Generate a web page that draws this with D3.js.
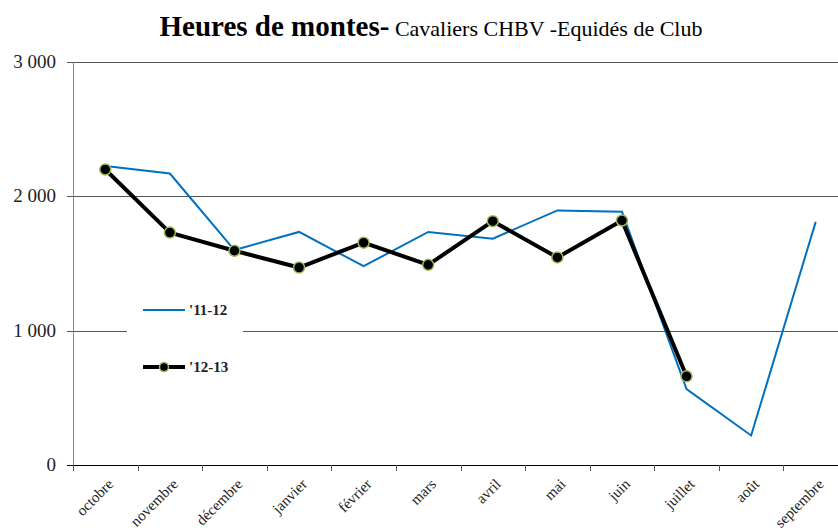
<!DOCTYPE html>
<html>
<head>
<meta charset="utf-8">
<script src="https://cdn.jsdelivr.net/npm/d3@7"></script>
<style>
  body { margin: 0; background: #fff; }
  svg { display: block; font-family: "Liberation Serif", "DejaVu Serif", serif; }
</style>
</head>
<body>
<svg id="chart" width="838" height="532"></svg>
<script>
const months = ["octobre", "novembre", "décembre", "janvier", "février", "mars",
                "avril", "mai", "juin", "juillet", "août", "septembre"];
const series1112 = [2225, 2170, 1600, 1735, 1480, 1735, 1685, 1895, 1885, 565, 220, 1810];
const series1213 = [2200, 1730, 1595, 1470, 1655, 1490, 1815, 1545, 1820, 660];
const yTicks = [0, 1000, 2000, 3000];

const svg = d3.select("#chart");
const plotLeft = 73, plotRight = 848, plotTop = 62, plotBottom = 465;

const x = d3.scaleBand().domain(months).range([plotLeft, plotRight]);
const y = d3.scaleLinear().domain([0, 3000]).range([plotBottom, plotTop]);
const cx = m => x(m) + x.bandwidth() / 2;

// gridlines
svg.append("g").selectAll("line")
  .data(yTicks.filter(d => d > 0))
  .join("line")
  .attr("x1", plotLeft - 6).attr("x2", 838)
  .attr("y1", d => Math.round(y(d)) + 0.5).attr("y2", d => Math.round(y(d)) + 0.5)
  .attr("stroke", "#555").attr("stroke-width", 1);

// y axis
svg.append("line")
  .attr("x1", plotLeft + 0.5).attr("x2", plotLeft + 0.5)
  .attr("y1", plotTop).attr("y2", plotBottom)
  .attr("stroke", "#888").attr("stroke-width", 1);

svg.append("g").selectAll("text")
  .data(yTicks)
  .join("text")
  .attr("x", 56)
  .attr("y", d => y(d) + 6)
  .attr("text-anchor", "end")
  .attr("font-size", "19px")
  .attr("fill", "#222")
  .text(d => d3.format(",")(d).replace(",", " "));

// x axis
svg.append("line")
  .attr("x1", plotLeft - 6).attr("x2", 838)
  .attr("y1", plotBottom + 0.5).attr("y2", plotBottom + 0.5)
  .attr("stroke", "#000").attr("stroke-width", 1.2);

svg.append("g").selectAll("line")
  .data(months)
  .join("line")
  .attr("x1", d => Math.round(x(d)) + 0.5).attr("x2", d => Math.round(x(d)) + 0.5)
  .attr("y1", plotBottom).attr("y2", plotBottom + 6)
  .attr("stroke", "#555");

svg.append("g").selectAll("text")
  .data(months)
  .join("text")
  .attr("transform", d => `translate(${cx(d) + 9},${plotBottom + 20}) rotate(-45)`)
  .attr("text-anchor", "end")
  .attr("font-size", "15px")
  .attr("fill", "#222")
  .text(d => d);

// lines
const line = d3.line().x((d, i) => cx(months[i])).y(d => y(d));

svg.append("path")
  .datum(series1112)
  .attr("d", line)
  .attr("fill", "none")
  .attr("stroke", "#0070c0")
  .attr("stroke-width", 2);

svg.append("path")
  .datum(series1213)
  .attr("d", line)
  .attr("fill", "none")
  .attr("stroke", "#000")
  .attr("stroke-width", 4)
  .attr("stroke-linejoin", "round");

svg.append("g").selectAll("circle")
  .data(series1213)
  .join("circle")
  .attr("cx", (d, i) => cx(months[i]))
  .attr("cy", d => y(d))
  .attr("r", 5.5)
  .attr("fill", "#000")
  .attr("stroke", "#9bbb59")
  .attr("stroke-width", 1.5);

// legend
const legend = svg.append("g");
legend.append("rect")
  .attr("x", 127).attr("y", 290).attr("width", 116).attr("height", 95)
  .attr("fill", "#fff");
legend.append("line")
  .attr("x1", 143).attr("x2", 185).attr("y1", 310).attr("y2", 310)
  .attr("stroke", "#0070c0").attr("stroke-width", 2);
legend.append("text")
  .attr("x", 189).attr("y", 315)
  .attr("font-size", "15px").attr("font-weight", "bold").attr("fill", "#222")
  .text("'11-12");
legend.append("line")
  .attr("x1", 143).attr("x2", 185).attr("y1", 367).attr("y2", 367)
  .attr("stroke", "#000").attr("stroke-width", 4);
legend.append("circle")
  .attr("cx", 164).attr("cy", 367).attr("r", 4.5)
  .attr("fill", "#000").attr("stroke", "#9bbb59").attr("stroke-width", 1.5);
legend.append("text")
  .attr("x", 189).attr("y", 372)
  .attr("font-size", "15px").attr("font-weight", "bold").attr("fill", "#222")
  .text("'12-13");

// title
const title = svg.append("text")
  .attr("x", 431).attr("y", 36)
  .attr("text-anchor", "middle")
  .attr("fill", "#000");
title.append("tspan").attr("font-size", "29px").attr("font-weight", "bold").text("Heures de montes-");
title.append("tspan").attr("font-size", "22px").text(" Cavaliers CHBV -Equidés de Club");
</script>
</body>
</html>
